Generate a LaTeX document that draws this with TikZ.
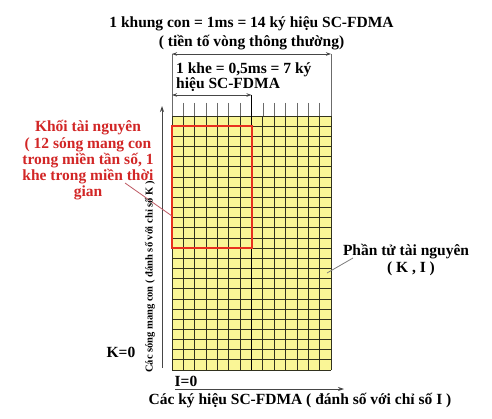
\documentclass[tikz,border=0pt]{standalone}
\usepackage{fontspec}
\setmainfont{Liberation Serif}
\usetikzlibrary{arrows.meta}
\definecolor{cellyellow}{RGB}{250,246,150}
\definecolor{gridline}{RGB}{50,50,30}
\definecolor{boxred}{RGB}{232,48,30}
\definecolor{txtred}{RGB}{210,38,38}
\definecolor{ptrred}{RGB}{190,90,100}
\definecolor{dimgray}{RGB}{70,70,70}
\begin{document}
\begin{tikzpicture}[x=1pt,y={(0pt,-1pt)},
  lbl/.style={font=\bfseries\fontsize{15.5}{16.5}\selectfont, inner sep=0pt, anchor=base},
  redlbl/.style={lbl, text=txtred},
  dimarrow/.style={draw=dimgray, line width=0.8pt, {Stealth[length=5pt,width=3.5pt]}-{Stealth[length=5pt,width=3.5pt]}},
  axisarrow/.style={draw=dimgray, line width=0.8pt, -{Stealth[length=6pt,width=4pt]}},
  gridl/.style={draw=gridline, line width=0.75pt},
  tickl/.style={draw=dimgray!80, line width=0.7pt}]
\useasboundingbox (0,0) rectangle (492,419);
\fill[white] (0,0) rectangle (492,419);
% grid
\def\gx{172}\def\gdx{11.357}\def\gy{116}\def\gdy{10.16}
\fill[cellyellow] (172,116) rectangle (331,370);
\foreach \j in {0,...,25} \draw[gridl] (172,{\gy+\j*\gdy}) -- (331,{\gy+\j*\gdy});
\foreach \i in {1,...,6,8,9,...,13} {
  \draw[tickl] ({\gx+\i*\gdx},103) -- ({\gx+\i*\gdx},116);
  \draw[gridl] ({\gx+\i*\gdx},116) -- ({\gx+\i*\gdx},370);
}
\draw[tickl] (172,54) -- (172,116);
\draw[tickl] (331,54) -- (331,116);
\draw[gridl] (172,116) -- (172,370);
\draw[gridl] (331,116) -- (331,370);
\draw[draw=black, line width=1.3pt] (251.5,95) -- (251.5,370);
% resource block
\draw[boxred, line width=2pt] (172,126.2) rectangle (251.5,248);
% dimension arrows
\coordinate (fL) at (172,54); \coordinate (fR) at (331,54);
\coordinate (sL) at (172,95); \coordinate (sR) at (251.5,95);
\draw[dimarrow] (fL) -- (fR);
\draw[dimarrow] (sL) -- (sR);
% axes
\coordinate (yB) at (162,368); \coordinate (yT) at (162,106);
\coordinate (xL) at (175,389); \coordinate (xR) at (344,389);
\draw[axisarrow] (yB) -- (yT);
\draw[axisarrow] (xL) -- (xR);
% titles
\node[lbl] (t1) at (251.5,28) {1 khung con = 1ms = 14 ký hiệu SC-FDMA};
\node[lbl] (t2) at (251.5,47) {( tiền tố vòng thông thường)};
\node[lbl, anchor=base west] (s1) at (176,74) {1 khe = 0,5ms = 7 ký};
\node[lbl, anchor=base west] (s2) at (176,89) {hiệu SC-FDMA};
% red label
\node[redlbl] (r1) at (88,132) {Khối tài nguyên};
\node[redlbl] (r2) at (88,148.5) {( 12 sóng mang con};
\node[redlbl] (r3) at (88,165) {trong miền tần số, 1};
\node[redlbl] (r4) at (88,181) {khe trong miền thời};
\node[redlbl] (r5) at (88,197) {gian};
\coordinate (rp1) at (125,183); \coordinate (rp2) at (172,216);
\draw[ptrred, line width=0.8pt] (rp1) -- (rp2);
% resource element label
\node[lbl] (p1) at (406,256) {Phần tử tài nguyên};
\node[lbl] (p2) at (411,273) {( K , I )};
\coordinate (pp1) at (353,258); \coordinate (pp2) at (327,273);
\draw[dimgray!70, line width=0.8pt] (pp1) -- (pp2);
% axis labels
\node[lbl] (k0) at (121,357) {K=0};
\node[lbl] (i0) at (186,386) {I=0};
\node[lbl] (xl) at (300,404) {Các ký hiệu SC-FDMA ( đánh số với chỉ số I )};
\node[font=\bfseries\fontsize{10.5}{12}\selectfont, inner sep=0pt, rotate=90] (yl) at (150,277) {Các sóng mang con ( đánh số với chỉ số K )};
\end{tikzpicture}
\end{document}
